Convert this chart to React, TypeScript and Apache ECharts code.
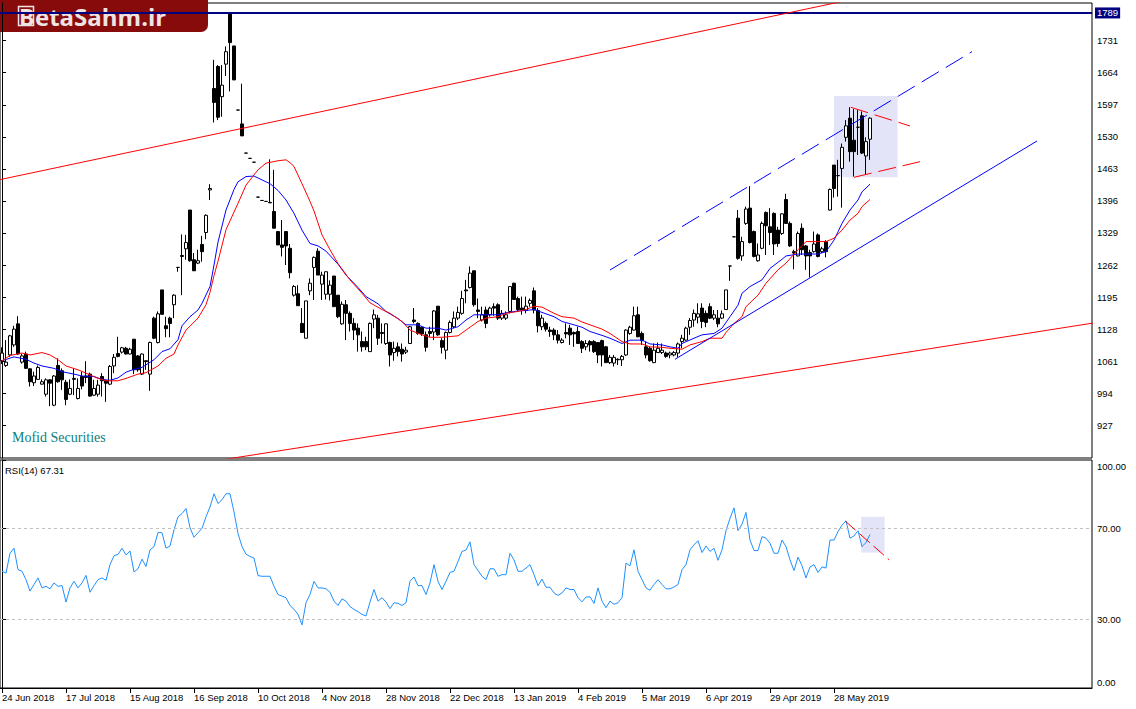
import React, { useEffect, useRef } from "react";
import * as echarts from "echarts";

// ---------- data ----------
const tickLabels = [
  "24 Jun 2018", "17 Jul 2018", "15 Aug 2018", "16 Sep 2018", "10 Oct 2018",
  "4 Nov 2018", "28 Nov 2018", "22 Dec 2018", "13 Jan 2019", "4 Feb 2019",
  "5 Mar 2019", "6 Apr 2019", "29 Apr 2019", "28 May 2019",
];
const barsPerLabel = 16;
const slotCount = 273; // bars + empty right margin of the chart

const priceTicks = [927, 994, 1061, 1128, 1195, 1262, 1329, 1396, 1463, 1530, 1597, 1664, 1731];
const priceMin = 858.6;
const priceMax = 1809.8;
const lastLevel = 1789;
const rsiTicks = [0, 30, 70, 100];
const rsiLevels = [70, 30];

// [open, close, low, high]
const candles = [
  [1062, 1078, 1055, 1090], [1052, 1059, 1049, 1105], [1074, 1114, 1070, 1116], [1095, 1128, 1091, 1135],
  [1139, 1076, 1074, 1155], [1059, 1072, 1056, 1077], [1076, 1046, 1045, 1081], [1045, 1018, 1008, 1046],
  [1016, 1030, 1009, 1039], [1023, 1048, 1022, 1052], [1013, 1018, 1012, 1023], [992, 1022, 987, 1025],
  [1022, 1015, 967, 1023], [969, 1030, 967, 1032], [1052, 1018, 1016, 1067], [1041, 1022, 1001, 1046],
  [1017, 981, 969, 1022], [992, 1004, 990, 1023], [1025, 1023, 990, 1046], [983, 1004, 981, 1025],
  [1029, 1009, 1002, 1039], [1030, 1027, 1015, 1061], [1034, 988, 987, 1037], [990, 1004, 988, 1022],
  [992, 1011, 987, 1022], [1029, 1020, 987, 1036], [1020, 1015, 976, 1022], [1013, 1050, 1011, 1053],
  [1051, 1069, 1036, 1076], [1077, 1071, 1069, 1112], [1080, 1089, 1077, 1091], [1088, 1076, 1075, 1091],
  [1076, 1086, 1075, 1089], [1107, 1043, 1034, 1107], [1072, 1043, 1039, 1074], [1034, 1076, 1032, 1077],
  [1062, 1060, 1043, 1062], [1034, 1100, 999, 1102], [1151, 1109, 1107, 1154], [1100, 1160, 1098, 1165],
  [1210, 1159, 1158, 1210], [1135, 1129, 1111, 1154], [1151, 1140, 1111, 1154], [1179, 1199, 1151, 1201],
  [1257, 1257, 1248, 1258], [1282, 1280, 1199, 1326], [1296, 1309, 1273, 1325], [1377, 1271, 1269, 1377],
  [1273, 1250, 1250, 1287], [1266, 1271, 1264, 1294], [1305, 1290, 1269, 1323], [1330, 1366, 1316, 1368],
  [1419, 1422, 1398, 1431], [1631, 1602, 1560, 1691], [1677, 1571, 1565, 1680], [1614, 1638, 1572, 1680],
  [1682, 1708, 1657, 1719], [1787, 1727, 1625, 1787], [1720, 1649, 1649, 1720], [1586, 1586, 1586, 1586],
  [1557, 1532, 1532, 1641], [1496, 1496, 1496, 1496], [1485, 1485, 1485, 1485], [1477, 1477, 1477, 1477],
  [1404, 1404, 1404, 1404], [1397, 1397, 1397, 1397], [1395, 1395, 1395, 1395], [1393, 1392, 1392, 1483],
  [1374, 1339, 1339, 1461], [1332, 1304, 1304, 1332], [1304, 1299, 1280, 1356], [1332, 1302, 1262, 1332],
  [1297, 1246, 1234, 1306], [1199, 1217, 1196, 1220], [1202, 1177, 1177, 1220], [1140, 1121, 1121, 1172],
  [1109, 1187, 1109, 1187], [1208, 1224, 1199, 1234], [1257, 1278, 1189, 1280], [1291, 1241, 1241, 1297],
  [1222, 1241, 1189, 1248], [1201, 1248, 1190, 1248], [1201, 1220, 1188, 1230], [1239, 1175, 1175, 1239],
  [1199, 1154, 1151, 1199], [1139, 1180, 1137, 1186], [1179, 1161, 1105, 1189], [1161, 1140, 1123, 1165],
  [1140, 1126, 1105, 1151], [1130, 1116, 1081, 1140], [1102, 1091, 1081, 1123], [1102, 1091, 1084, 1112],
  [1081, 1140, 1081, 1142], [1149, 1158, 1130, 1169], [1151, 1109, 1095, 1158], [1121, 1119, 1098, 1140],
  [1098, 1139, 1095, 1140], [1100, 1074, 1050, 1102], [1079, 1088, 1062, 1102], [1091, 1081, 1071, 1100],
  [1086, 1076, 1060, 1098], [1080, 1084, 1076, 1091], [1098, 1133, 1097, 1135], [1147, 1144, 1140, 1172],
  [1140, 1119, 1116, 1142], [1132, 1118, 1114, 1133], [1116, 1090, 1081, 1123], [1123, 1119, 1112, 1133],
  [1122, 1166, 1105, 1168], [1176, 1116, 1114, 1176], [1104, 1090, 1077, 1109], [1084, 1121, 1065, 1123],
  [1121, 1142, 1119, 1146], [1133, 1151, 1130, 1165], [1151, 1163, 1147, 1175], [1161, 1192, 1158, 1208],
  [1210, 1208, 1182, 1231], [1215, 1245, 1213, 1259], [1250, 1179, 1175, 1250], [1168, 1165, 1151, 1192],
  [1147, 1158, 1144, 1175], [1168, 1140, 1130, 1175], [1158, 1172, 1154, 1175], [1175, 1172, 1156, 1182],
  [1179, 1151, 1147, 1182], [1151, 1161, 1147, 1168], [1151, 1158, 1147, 1165], [1165, 1217, 1161, 1218],
  [1224, 1190, 1189, 1225], [1192, 1169, 1165, 1196], [1172, 1168, 1158, 1196], [1167, 1176, 1161, 1196],
  [1182, 1188, 1175, 1192], [1208, 1168, 1161, 1215], [1167, 1135, 1121, 1172], [1133, 1151, 1126, 1158],
  [1140, 1128, 1123, 1144], [1126, 1123, 1112, 1133], [1126, 1116, 1105, 1130], [1116, 1105, 1098, 1126],
  [1100, 1105, 1098, 1109], [1121, 1118, 1109, 1140], [1130, 1116, 1095, 1137], [1121, 1118, 1091, 1123],
  [1123, 1098, 1097, 1133], [1102, 1088, 1078, 1105], [1091, 1098, 1084, 1105], [1102, 1095, 1081, 1105],
  [1102, 1081, 1078, 1105], [1100, 1074, 1057, 1101], [1104, 1074, 1050, 1106], [1091, 1058, 1057, 1093],
  [1058, 1069, 1055, 1074], [1057, 1069, 1050, 1074], [1065, 1064, 1053, 1067], [1064, 1071, 1051, 1074],
  [1074, 1126, 1072, 1128], [1119, 1132, 1116, 1135], [1126, 1156, 1125, 1175], [1158, 1112, 1111, 1175],
  [1119, 1104, 1095, 1123], [1091, 1074, 1067, 1102], [1088, 1062, 1060, 1091], [1058, 1084, 1057, 1098],
  [1079, 1088, 1078, 1100], [1079, 1084, 1076, 1098], [1078, 1071, 1068, 1081], [1074, 1078, 1067, 1081],
  [1074, 1079, 1071, 1082], [1078, 1097, 1069, 1100], [1102, 1109, 1088, 1116], [1105, 1130, 1104, 1133],
  [1132, 1146, 1116, 1151], [1147, 1161, 1133, 1169], [1153, 1160, 1140, 1182], [1172, 1144, 1130, 1182],
  [1161, 1142, 1132, 1167], [1175, 1151, 1149, 1182], [1151, 1158, 1147, 1168], [1151, 1139, 1132, 1168],
  [1151, 1160, 1149, 1167], [1169, 1210, 1168, 1210], [1260, 1260, 1229, 1260], [1321, 1321, 1321, 1321],
  [1360, 1276, 1273, 1377], [1281, 1311, 1271, 1321], [1349, 1379, 1346, 1384], [1381, 1309, 1307, 1427],
  [1332, 1280, 1278, 1334], [1271, 1283, 1269, 1307], [1297, 1349, 1295, 1353], [1372, 1344, 1283, 1374],
  [1342, 1330, 1304, 1381], [1370, 1306, 1283, 1372], [1335, 1307, 1300, 1342], [1328, 1369, 1325, 1370],
  [1399, 1349, 1348, 1411], [1349, 1302, 1300, 1353], [1290, 1287, 1253, 1294], [1281, 1328, 1280, 1332],
  [1339, 1294, 1283, 1349], [1302, 1281, 1252, 1304], [1288, 1281, 1236, 1294], [1290, 1306, 1288, 1332],
  [1325, 1280, 1278, 1328], [1290, 1296, 1287, 1300], [1311, 1290, 1278, 1314], [1377, 1420, 1376, 1422],
  [1471, 1422, 1403, 1471], [1449, 1449, 1405, 1482], [1464, 1508, 1382, 1516], [1529, 1553, 1520, 1565],
  [1569, 1499, 1478, 1592], [1523, 1499, 1447, 1588], [1550, 1550, 1492, 1586], [1574, 1496, 1494, 1583],
  [1490, 1520, 1452, 1529], [1525, 1569, 1482, 1571],
];

// moving averages read at sample bars: [bar, price]
const blueMA = [
  [0, 1062], [3, 1070], [6, 1065], [8, 1057], [10, 1051], [13, 1046], [15, 1039], [18, 1034], [20, 1030],
  [23, 1029], [25, 1023], [27, 1021], [29, 1026], [31, 1038], [33, 1044], [35, 1048], [38, 1064], [40, 1081],
  [42, 1087], [44, 1106], [45, 1135], [47, 1154], [49, 1168], [50, 1182], [52, 1217], [53, 1262], [54, 1310],
  [56, 1377], [58, 1420], [59, 1436], [61, 1447], [63, 1448], [65, 1440], [67, 1432], [69, 1418], [71, 1398],
  [73, 1370], [75, 1335], [77, 1307], [79, 1302], [81, 1291], [84, 1264], [86, 1241], [89, 1215], [91, 1196],
  [94, 1181], [96, 1165], [99, 1150], [101, 1137], [104, 1137], [106, 1130], [109, 1130], [111, 1126],
  [114, 1133], [116, 1147], [118, 1158], [121, 1158], [124, 1158], [126, 1162], [129, 1166], [131, 1167],
  [133, 1169], [135, 1163], [138, 1154], [140, 1144], [143, 1137], [145, 1132], [147, 1123], [150, 1115],
  [152, 1109], [155, 1098], [157, 1105], [160, 1105], [162, 1097], [165, 1095], [167, 1091], [169, 1088],
  [170, 1098], [173, 1109], [175, 1116], [178, 1119], [180, 1130], [182, 1154], [184, 1178], [185, 1203],
  [187, 1217], [190, 1231], [192, 1255], [195, 1274], [196, 1281], [199, 1285], [201, 1285], [204, 1285],
  [206, 1290], [208, 1314], [210, 1349], [212, 1377], [214, 1398], [215, 1415], [217, 1431],
];
const redMA = [
  [0, 1062], [2, 1073], [5, 1078], [7, 1074], [10, 1079], [12, 1074], [14, 1064], [16, 1051], [19, 1043],
  [21, 1036], [24, 1025], [26, 1020], [29, 1020], [31, 1025], [34, 1034], [36, 1037], [39, 1051], [41, 1067],
  [43, 1076], [44, 1095], [46, 1126], [49, 1151], [51, 1179], [52, 1205], [53, 1240], [54, 1270], [56, 1336],
  [59, 1391], [61, 1429], [64, 1461], [66, 1475], [69, 1480], [71, 1482], [72, 1476], [73, 1468], [75, 1432],
  [77, 1395], [78, 1375], [80, 1325], [82, 1294], [84, 1265], [87, 1231], [90, 1203], [92, 1183], [95, 1169],
  [97, 1161], [100, 1144], [102, 1126], [105, 1116], [107, 1111], [110, 1111], [114, 1114], [116, 1126],
  [119, 1144], [121, 1151], [124, 1154], [126, 1161], [129, 1165], [131, 1169], [133, 1176], [135, 1174],
  [138, 1161], [140, 1154], [143, 1151], [145, 1143], [147, 1137], [150, 1128], [152, 1119], [155, 1102],
  [157, 1097], [160, 1097], [162, 1091], [165, 1090], [167, 1088], [170, 1086], [172, 1095], [175, 1102],
  [177, 1109], [180, 1109], [181, 1121], [183, 1140], [185, 1154], [186, 1175], [189, 1199], [191, 1224],
  [194, 1252], [196, 1266], [199, 1294], [201, 1311], [204, 1311], [206, 1311], [208, 1318], [210, 1335],
  [212, 1356], [214, 1370], [215, 1384], [217, 1399],
];

const rsiValues = [
  51.2, 50.4, 59.1, 61.3, 51.9, 51.2, 47.5, 42.5, 45.4, 48.3,
  43.9, 44.6, 43.5, 46.1, 44.6, 44.9, 37.7, 43.9, 46.8, 43.9,
  46.1, 49.4, 42.0, 44.9, 47.5, 48.3, 47.2, 54.1, 58.0, 58.6,
  61.3, 58.4, 60.1, 50.9, 52.3, 56.5, 53.3, 60.6, 62.0, 68.2,
  68.1, 61.3, 62.3, 69.3, 75.1, 76.5, 78.7, 70.3, 66.1, 68.1,
  70.0, 75.1, 79.4, 85.2, 80.9, 82.6, 85.2, 85.2, 77.2, 67.8,
  62.0, 58.7, 57.7, 57.0, 49.3, 49.0, 49.0, 49.0, 44.6, 41.0,
  40.3, 39.6, 36.2, 34.5, 32.3, 27.7, 37.4, 41.0, 46.8, 43.9,
  43.9, 43.5, 42.0, 38.1, 36.2, 39.1, 38.1, 35.7, 34.5, 33.5,
  32.3, 31.6, 37.7, 43.2, 38.1, 39.6, 37.7, 34.8, 37.4, 37.1,
  36.2, 37.4, 46.8, 48.7, 44.9, 44.9, 41.0, 46.1, 54.1, 46.8,
  43.2, 46.8, 50.7, 51.2, 55.5, 59.9, 60.5, 64.1, 54.1, 51.6,
  49.0, 47.5, 52.3, 52.3, 49.0, 49.7, 49.7, 59.1, 56.2, 51.2,
  51.2, 52.6, 54.1, 49.7, 44.9, 47.8, 44.2, 44.2, 41.7, 40.6,
  41.7, 43.9, 43.2, 43.2, 39.6, 37.8, 39.9, 40.0, 37.1, 43.9,
  38.1, 35.2, 38.1, 36.7, 37.4, 39.6, 54.8, 53.6, 60.6, 51.2,
  47.5, 43.9, 42.9, 45.4, 47.5, 45.4, 43.5, 43.5, 44.3, 45.4,
  51.9, 54.1, 60.6, 62.8, 64.6, 59.4, 62.3, 59.9, 61.3, 56.0,
  60.6, 69.0, 74.4, 79.0, 69.0, 71.9, 77.0, 64.9, 60.3, 60.3,
  66.4, 65.7, 63.5, 59.1, 59.1, 64.9, 62.0, 56.2, 51.5, 57.4,
  53.6, 48.3, 53.1, 54.1, 50.7, 53.1, 52.6, 64.9, 64.9, 68.6,
  71.4, 73.3, 65.7, 66.7, 69.0, 62.0, 63.8, 67.31,
];

// drawn objects: [bar, value] end points
const redUpperLine = [[-0.5, 1440.6], [240, 1866]];
const redLowerLine = [[46, 843], [273, 1141]];
const blueSupportLine = [[168.25, 1065], [258.75, 1521.3]];
const blueDashedLine = [[152, 1251.6], [242.5, 1708]];
const pennantUpper = [[212.2, 1591.8], [227, 1552.7]];
const pennantLower = [[213, 1445.4], [229.5, 1478.1]];
const priceBox = [[208, 1615.4], [223.9, 1445.4]];
const rsiTrendLine = [[210.75, 73.3], [221.8, 56.2]];
const rsiBox = [[214.8, 75.1], [220.65, 59.4]];

export default function App() {
  const ref = useRef<HTMLDivElement>(null);

  useEffect(() => {
    if (!ref.current) return;
    const chart = echarts.init(ref.current, null, { renderer: "svg" });
    const cats = Array.from({ length: slotCount }, (_, i) => String(i));
    const font = { color: "#000", fontSize: 9.5, fontFamily: "Liberation Sans, Arial, sans-serif" };
    const showAt = (i: number) => i % barsPerLabel === 0 && i / barsPerLabel < tickLabels.length;

    const seg = (pts: number[][], color: string, type: any, xi: number, yi: number, extra: any = {}) => ({
      type: "line",
      xAxisIndex: xi,
      yAxisIndex: yi,
      data: pts,
      symbol: "none",
      silent: true,
      clip: true,
      lineStyle: { color, width: 1, type },
      z: 5,
      ...extra,
    });

    const option: any = {
      animation: false,
      backgroundColor: "#ffffff",
      grid: [
        { left: 0, top: 3, width: 1092, height: 455, show: true, borderColor: "#000", borderWidth: 1, outerBoundsMode: "none", containLabel: false },
        { left: 0, top: 460, width: 1092, height: 228, show: true, borderColor: "#000", borderWidth: 1, outerBoundsMode: "none", containLabel: false },
      ],
      xAxis: [
        { type: "category", gridIndex: 0, data: cats, boundaryGap: true, show: false },
        {
          type: "category",
          gridIndex: 1,
          data: cats,
          boundaryGap: true,
          axisLine: { show: true, lineStyle: { color: "#000", width: 1 } },
          axisTick: { show: true, alignWithLabel: true, interval: (i: number) => showAt(i), length: 5, lineStyle: { color: "#000" } },
          axisLabel: {
            show: true,
            interval: (i: number) => showAt(i),
            formatter: (_v: string, i: number) => tickLabels[i / barsPerLabel] ?? "",
            align: "left",
            margin: 4,
            ...font,
          },
          splitLine: { show: false },
        },
        { type: "value", gridIndex: 0, min: -0.5, max: slotCount - 0.5, show: false, splitLine: { show: false } },
        { type: "value", gridIndex: 1, min: -0.5, max: slotCount - 0.5, show: false, splitLine: { show: false } },
      ],
      yAxis: [
        {
          type: "value",
          gridIndex: 0,
          position: "right",
          min: priceMin,
          max: priceMax,
          axisLine: { show: true, lineStyle: { color: "#000", width: 1 } },
          axisTick: { show: true, length: 4, customValues: priceTicks, lineStyle: { color: "#000" } },
          axisLabel: {
            show: true,
            customValues: priceTicks,
            margin: 5,
            ...font,
            formatter: (v: number) => String(Math.round(Number(v))),
          },
          splitLine: { show: false },
        },
        {
          type: "value",
          gridIndex: 1,
          position: "right",
          min: 0,
          max: 100,
          axisLine: { show: true, lineStyle: { color: "#000", width: 1 } },
          axisTick: { show: true, length: 4, customValues: rsiTicks, lineStyle: { color: "#000" } },
          axisLabel: {
            show: true,
            customValues: rsiTicks,
            margin: 5,
            ...font,
            formatter: (v: number) => {
              const s = Number(v).toFixed(2);
              if (Number(v) === 100) return `{t|${s}}`;
              if (Number(v) === 0) return `{b|${s}}`;
              return s;
            },
            rich: {
              t: { ...font, padding: [12, 0, 0, 0] },
              b: { ...font, padding: [0, 0, 12, 0] },
            },
          },
          splitLine: { show: false },
        },
      ],
      series: [
        // background box behind candles
        {
          type: "line",
          xAxisIndex: 2,
          yAxisIndex: 0,
          data: [],
          silent: true,
          z: 1,
          markArea: {
            silent: true,
            itemStyle: { color: "#e4e4f8" },
            data: [[{ coord: priceBox[0] }, { coord: priceBox[1] }]],
          },
        },
        {
          type: "candlestick",
          xAxisIndex: 0,
          yAxisIndex: 0,
          data: candles,
          barWidth: 3,
          z: 3,
          silent: true,
          itemStyle: { color: "#ffffff", color0: "#000000", borderColor: "#000000", borderColor0: "#000000", borderWidth: 1 },
          markLine: {
            silent: true,
            symbol: "none",
            data: [{ yAxis: lastLevel }],
            lineStyle: { color: "#000080", width: 2, type: "solid" },
            label: {
              show: true,
              position: "end",
              distance: 3,
              formatter: String(lastLevel),
              backgroundColor: "#000080",
              color: "#fff",
              padding: [1, 2, 0, 2],
              fontSize: 9.5,
              fontFamily: "Liberation Sans, Arial, sans-serif",
            },
          },
        },
        seg(blueMA, "#0000ff", "solid", 2, 0, { z: 4 }),
        seg(redMA, "#ff0000", "solid", 2, 0, { z: 4 }),
        seg(redUpperLine, "#ff0000", "solid", 2, 0),
        seg(redLowerLine, "#ff0000", "solid", 2, 0),
        seg(blueSupportLine, "#0000ff", "solid", 2, 0),
        seg(blueDashedLine, "#0000ff", [20, 8], 2, 0),
        seg(pennantUpper, "#ff0000", [18, 7], 2, 0),
        seg(pennantLower, "#ff0000", [18, 7], 2, 0),
        // RSI panel
        {
          type: "line",
          xAxisIndex: 3,
          yAxisIndex: 1,
          data: [],
          silent: true,
          z: 1,
          markArea: {
            silent: true,
            itemStyle: { color: "#e4e4f8" },
            data: [[{ coord: rsiBox[0] }, { coord: rsiBox[1] }]],
          },
        },
        {
          type: "line",
          xAxisIndex: 1,
          yAxisIndex: 1,
          data: rsiValues,
          symbol: "none",
          silent: true,
          z: 4,
          lineStyle: { color: "#1e90ff", width: 1 },
          markLine: {
            silent: true,
            symbol: "none",
            label: { show: false },
            lineStyle: { color: "#c0c0c0", width: 1, type: [3, 3] },
            data: rsiLevels.map((v) => ({ yAxis: v })),
          },
        },
        seg(rsiTrendLine, "#ff0000", [14, 5], 3, 1),
      ],
      graphic: [
        {
          type: "group",
          left: 0,
          top: 0,
          z: 100,
          children: [
            { type: "rect", shape: { x: 0, y: 0, width: 208, height: 32, r: [0, 0, 7, 0] }, style: { fill: "#870b0b" } },
            { type: "rect", shape: { x: 18.5, y: 6.5, width: 15, height: 19 }, style: { fill: "none", stroke: "#eee4e4", lineWidth: 1.5 } },
            {
              type: "text",
              x: 19,
              y: 16.5,
              style: {
                text: "B",
                fill: "#eee4e4",
                font: "bold 23px 'Open Sans', 'DejaVu Sans', sans-serif",
                verticalAlign: "middle",
                align: "left",
              },
            },
            {
              type: "text",
              x: 35,
              y: 16,
              style: {
                text: "etaSahm.ir",
                fill: "#eee4e4",
                font: "bold 24px 'Open Sans', 'DejaVu Sans', sans-serif",
                verticalAlign: "middle",
                align: "left",
              },
            },
          ],
        },
        {
          type: "text",
          left: 12,
          top: 430,
          z: 100,
          style: { text: "Mofid Securities", fill: "#0b8080", font: "14px 'Liberation Serif', serif" },
        },
        {
          type: "text",
          left: 5,
          top: 465,
          z: 100,
          style: { text: `RSI(14) ${rsiValues[rsiValues.length - 1].toFixed(2)}`, fill: "#000", font: "9.5px 'Liberation Sans', Arial, sans-serif" },
        },
      ],
    };

    chart.setOption(option);
    return () => chart.dispose();
  }, []);

  return (
    <div
      ref={ref}
      style={{ position: "fixed", left: 0, top: 0, width: 1136, height: 709, background: "#fff" }}
    />
  );
}
